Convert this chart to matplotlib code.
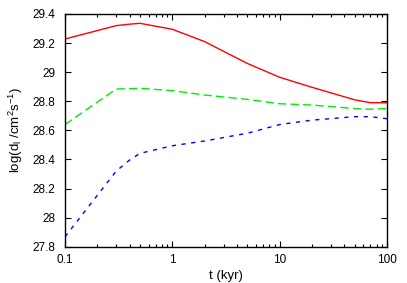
import matplotlib
matplotlib.use("Agg")
import matplotlib.pyplot as plt
from matplotlib.ticker import LogLocator, NullFormatter

plt.rcParams['font.family'] = ['Liberation Sans', 'DejaVu Sans']
plt.rcParams['mathtext.fontset'] = 'custom'
plt.rcParams['mathtext.rm'] = 'Liberation Sans'

t = [0.1, 0.3, 0.4, 0.5, 1, 2, 5, 10, 20, 50, 70, 100]
red = [29.228, 29.32, 29.33, 29.336, 29.295, 29.21, 29.06, 28.965, 28.896, 28.81, 28.79, 28.79]
green = [28.64, 28.884, 28.887, 28.889, 28.873, 28.843, 28.813, 28.783, 28.774, 28.75, 28.745, 28.75]
blue = [27.868, 28.32, 28.396, 28.442, 28.494, 28.527, 28.58, 28.64, 28.67, 28.694, 28.694, 28.68]

yticks = [27.8, 28.0, 28.2, 28.4, 28.6, 28.8, 29.0, 29.2, 29.4]
ylabels = ["27.8", "28", "28.2", "28.4", "28.6", "28.8", "29", "29.2", "29.4"]
xticks = [0.1, 1, 10, 100]
xlabels = ["0.1", "1", "10", "100"]

fig = plt.figure(figsize=(4.07, 2.83), dpi=100)
ax = fig.add_axes([65/407, 1-246.7/283, (387-65)/407, (246.7-14)/283])
ax.plot(t, red, color='#ff0000', lw=1.0, ls='-')
ax.plot(t, green, color='#00ee00', lw=1.0, ls=(0, (6, 3)))
ax.plot(t, blue, color='#0000ff', lw=1.0, ls=(0, (3, 4)))
ax.set_xscale('log')
ax.set_xlim(0.1, 100)
ax.set_ylim(27.8, 29.4)
ax.set_xticks(xticks)
ax.set_xticklabels(xlabels)
ax.xaxis.set_minor_locator(LogLocator(base=10, subs=range(2, 10)))
ax.xaxis.set_minor_formatter(NullFormatter())
ax.set_yticks(yticks)
ax.set_yticklabels(ylabels)
ax.tick_params(which='both', direction='in', top=True, right=True, labelsize=8.5, width=0.8)
ax.tick_params(which='major', length=4)
ax.tick_params(which='minor', length=2)
ax.tick_params(axis='y', pad=7)
ax.tick_params(axis='x', pad=5)
for s in ax.spines.values():
    s.set_linewidth(1.0)
ax.set_xlabel('t (kyr)', fontsize=9.5, labelpad=3)
ax.set_ylabel(r'log(d$_\mathregular{l}$ /cm$^\mathregular{2}$s$^\mathregular{-1}$)', fontsize=9.5, labelpad=5)
fig.savefig('out.png', dpi=100)
